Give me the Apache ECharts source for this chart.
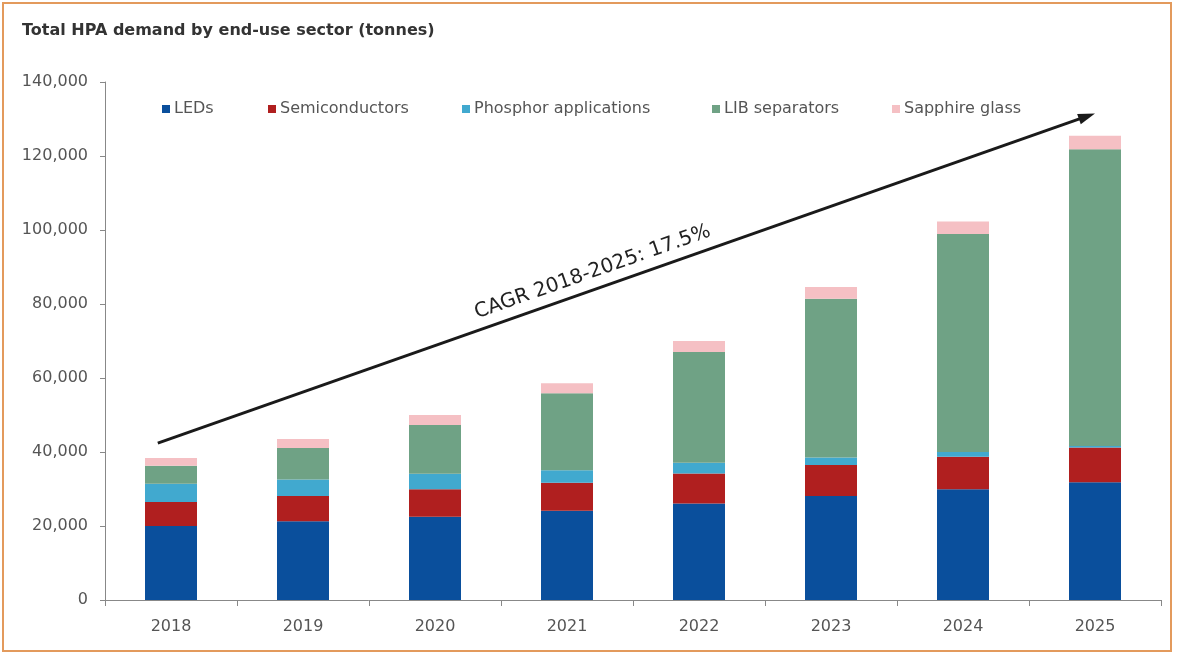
<!DOCTYPE html>
<html>
<head>
<meta charset="utf-8">
<script src="https://cdn.jsdelivr.net/npm/echarts@6/dist/echarts.min.js"></script>
<style>
  html, body { margin: 0; padding: 0; background: #fff; }
  #main { width: 1181px; height: 655px; }
</style>
</head>
<body>
<div id="main"></div>
<script>
// values in tonnes
const years = ['2018', '2019', '2020', '2021', '2022', '2023', '2024', '2025'];
const leds = [20000, 21300, 22500, 24100, 26100, 28100, 29900, 31800];
const semiconductors = [6500, 6800, 7400, 7600, 8100, 8400, 8800, 9400];
const phosphor = [4900, 4500, 4200, 3400, 2900, 2000, 1300, 400];
const libSeparators = [4900, 8500, 13200, 20800, 29900, 42900, 58900, 80200];
const sapphire = [2100, 2400, 2700, 2700, 3000, 3200, 3400, 3700];
const seriesNames = ['LEDs', 'Semiconductors', 'Phosphor applications', 'LIB separators', 'Sapphire glass'];
const seriesColors = ['#0a4f9c', '#b01f1f', '#41a9cf', '#6fa285', '#f5c0c4'];
// CAGR arrow: start just left of 2018, ends over 2025
const cagrStart = 42400;
const cagrEnd = 131500;
const cagrText = 'CAGR 2018-2025: 17.5%';

const font = 'DejaVu Sans, Liberation Sans, sans-serif';
const chart = echarts.init(document.getElementById('main'));

const legendLeft = [162, 268, 462, 712, 892];
const legends = seriesNames.map((n, i) => ({
  data: [n],
  left: legendLeft[i],
  top: 101,
  padding: 0,
  icon: 'rect',
  itemWidth: 8,
  itemHeight: 8,
  itemGap: 0,
  textStyle: { color: '#555', fontSize: 16, fontFamily: font, padding: [0, 0, 0, -1] }
}));

const allData = [leds, semiconductors, phosphor, libSeparators, sapphire];
const series = allData.map((d, i) => ({
  name: seriesNames[i],
  type: 'bar',
  stack: 'total',
  data: d,
  barWidth: 52,
  itemStyle: { color: seriesColors[i] },
  emphasis: { disabled: true }
}));

chart.setOption({
  animation: false,
  title: {
    text: 'Total HPA demand by end-use sector (tonnes)',
    left: 17,
    top: 18,
    textStyle: { color: '#333', fontSize: 16, fontWeight: 'bold', fontFamily: font }
  },
  legend: legends,
  grid: { left: 105, right: 20, top: 82, bottom: 55 },
  xAxis: {
    type: 'category',
    data: years,
    axisLine: { lineStyle: { color: '#888', width: 1 } },
    axisTick: { show: true, length: 6, lineStyle: { color: '#888' } },
    axisLabel: { color: '#555', fontSize: 16, fontFamily: font, margin: 19 }
  },
  yAxis: {
    type: 'value',
    min: 0,
    max: 140000,
    interval: 20000,
    axisLine: { show: true, lineStyle: { color: '#888', width: 1 } },
    axisTick: { show: true, length: 5, lineStyle: { color: '#888' } },
    splitLine: { show: false },
    axisLabel: {
      color: '#555',
      fontSize: 16,
      fontFamily: font,
      margin: 17,
      formatter: v => v.toLocaleString('en-US')
    }
  },
  series: series
});

// arrow positions come from the chart's own scales
const band = chart.convertToPixel({ gridIndex: 0 }, [1, 0])[0] - chart.convertToPixel({ gridIndex: 0 }, [0, 0])[0];
const p0 = chart.convertToPixel({ gridIndex: 0 }, [0, cagrStart]);
const p1 = chart.convertToPixel({ gridIndex: 0 }, [years.length - 1, cagrEnd]);
p0[0] -= band * 0.1;
const dx = p1[0] - p0[0], dy = p1[1] - p0[1];
const len = Math.sqrt(dx * dx + dy * dy);
const ux = dx / len, uy = dy / len;   // along the line
const nx = uy, ny = -ux;              // normal, pointing up-left
const headLen = 17, headHalf = 5.5;
const base = [p1[0] - ux * headLen, p1[1] - uy * headLen];
const t = 0.47, lift = 17;
const mid = [p0[0] + dx * t + nx * lift, p0[1] + dy * t + ny * lift];

chart.setOption({
  graphic: [{
    type: 'rect',
    shape: { x: 3, y: 3, width: 1168, height: 648 },
    style: { fill: 'none', stroke: '#e39a5c', lineWidth: 2 },
    silent: true
  }, {
    type: 'line',
    shape: { x1: p0[0], y1: p0[1], x2: base[0] + ux * 2, y2: base[1] + uy * 2 },
    style: { stroke: '#1a1a1a', lineWidth: 3 },
    silent: true
  }, {
    type: 'polygon',
    shape: {
      points: [
        p1,
        [base[0] + nx * headHalf, base[1] + ny * headHalf],
        [base[0] - nx * headHalf, base[1] - ny * headHalf]
      ]
    },
    style: { fill: '#1a1a1a' },
    silent: true
  }, {
    type: 'text',
    x: mid[0],
    y: mid[1],
    rotation: Math.atan2(-dy, dx),
    style: {
      text: cagrText,
      x: 0,
      y: 0,
      align: 'center',
      verticalAlign: 'middle',
      fill: '#222',
      fontSize: 20,
      fontFamily: font
    },
    silent: true
  }]
});
</script>
</body>
</html>
